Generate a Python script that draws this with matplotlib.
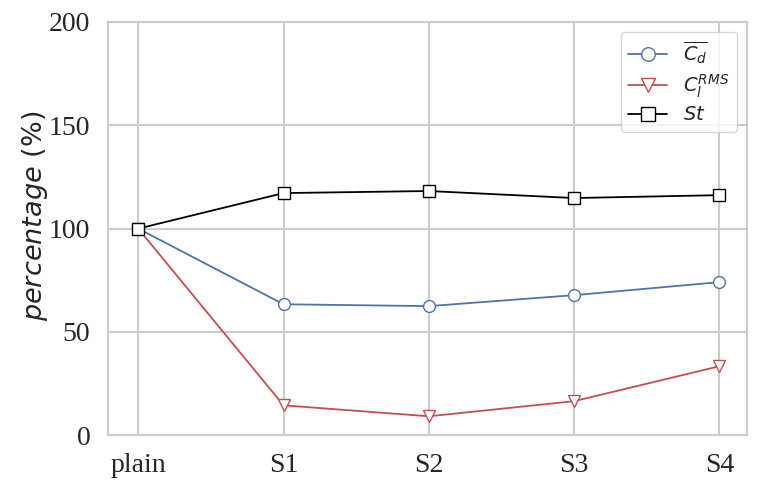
import matplotlib
matplotlib.use("Agg")
import matplotlib.pyplot as plt
import seaborn as sns

cases = ["plain", "S1", "S2", "S3", "S4"]
cd_mean = [100, 63.4, 62.5, 67.8, 74.1]
cl_rms = [100, 14.5, 9.2, 16.5, 33.4]
strouhal = [100, 117.2, 118.2, 114.8, 116.2]

sns.set_style("whitegrid")
plt.rcParams['font.family'] = ['DejaVu Sans']

fig, ax = plt.subplots(figsize=(7.59, 4.88), dpi=100)
x = list(range(len(cases)))

ax.plot(x, cd_mean, marker='o', color='#4c72b0', markerfacecolor='white',
        markersize=8.5, linewidth=1.3, label=r'$\overline{C_d}$')
ax.plot(x, cl_rms, marker='v', color='#c44e52', markerfacecolor='white',
        markersize=8.5, linewidth=1.3, label=r'$C_l^{RMS}$')
ax.plot(x, strouhal, marker='s', color='black', markerfacecolor='white',
        markersize=8.5, linewidth=1.3, label=r'$St$')

ax.set_xticks(x)
ax.set_xticklabels(cases, family='Liberation Serif', fontsize=20)
ax.set_ylim(0, 200)
ax.set_yticks([0, 50, 100, 150, 200])
ax.set_yticklabels(['0', '50', '100', '150', '200'], family='Liberation Serif', fontsize=20)
ax.tick_params(axis='x', pad=9, colors='#262626')
ax.tick_params(axis='y', pad=9, colors='#262626')
ax.set_xlim(-0.21, 4.19)
ax.set_ylabel(r'$percentage$ (%)', fontsize=19.5, color='#262626')
ax.yaxis.set_label_coords(-0.09, 0.53)

for s in ax.spines.values():
    s.set_color('#cccccc')
    s.set_linewidth(1.5)
ax.grid(True, color='#cccccc', linewidth=1.5)

ax.legend(loc='upper right', fontsize=14, frameon=True, markerscale=1.15,
          handlelength=2.0, borderpad=0.4, labelspacing=0.3)

fig.subplots_adjust(left=0.142, right=0.984, top=0.955, bottom=0.108)
fig.savefig('out.png', dpi=100)
